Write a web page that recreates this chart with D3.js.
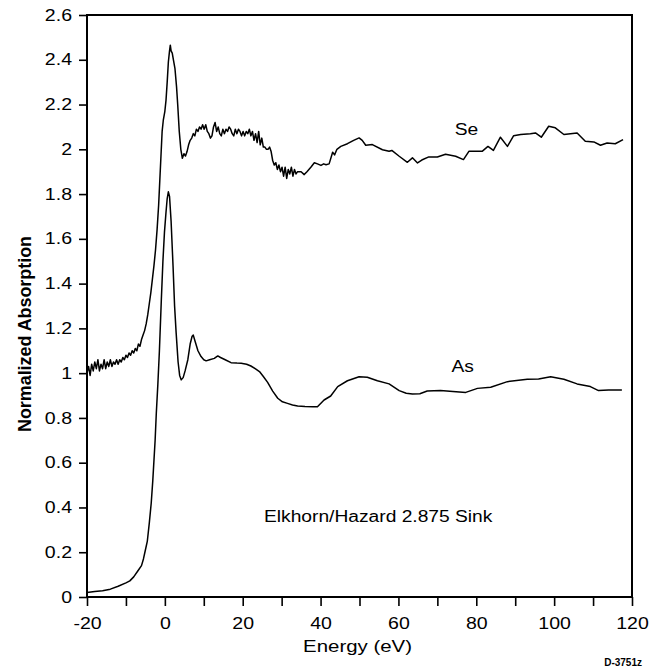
<!DOCTYPE html>
<html>
<head>
<meta charset="utf-8">
<script src="https://cdn.jsdelivr.net/npm/d3@7"></script>
<style>
  body { margin: 0; background: #fff; }
  svg { display: block; }
  text { font-family: "Liberation Sans", Arial, Helvetica, sans-serif; fill: #000; }
</style>
</head>
<body>
<svg id="chart" width="650" height="670"></svg>
<script>
// ---- data ----
const seEnergy = [-20,-19.6,-19.2,-18.8,-18.4,-18,-17.6,-17.2,-16.8,-16.4,-16,-15.6,-15.2,-14.8,-14.4,-14,-13.6,-13.2,-12.8,-12.4,-12,-11.6,-11.2,-10.8,-10.4,-10,-9.6,-9.2,-8.8,-8.4,-8,-7.6,-7.2,-6.8,-6.4,-6,-5.6,-5.2,-4.8,-4.4,-4,-3.6,-3.2,-2.8,-2.4,-2,-1.6,-1.3,-1,-0.7,-0.4,0,0.3,0.6,0.9,1.2,1.4,1.6,1.9,2.2,2.6,3,3.3,3.7,4.1,4.5,4.9,5.3,5.7,6.1,6.5,6.9,7.3,7.7,8.1,8.5,8.9,9.3,9.7,10.1,10.5,10.9,11.3,11.7,12.1,12.5,12.9,13.3,13.7,14.1,14.5,14.9,15.3,15.7,16.1,16.5,16.9,17.3,17.7,18.1,18.5,18.9,19.3,19.7,20.1,20.5,20.9,21.3,21.7,22.1,22.5,22.9,23.3,23.7,24.1,24.5,24.9,25.3,25.7,26.1,26.5,26.9,27.3,27.7,28.1,28.5,28.9,29.3,29.7,30.1,30.5,30.9,31.3,31.7,32.1,32.5,32.9,33.3,33.7,34.1,34.5,35,35.8,36.5,37.5,38.4,39.2,40.1,40.8,41.4,42.2,43.1,43.6,44.2,45.2,46.9,48.5,49.9,50.7,51.6,53.3,55.9,57.6,58.3,60.2,62.3,63.6,64.9,66,67.8,70,72.1,74.7,76.7,78.1,81.5,83,84.4,86.2,88,89.6,91.4,93.9,95.2,96.7,98.6,100.3,102.5,105.9,108,110.2,111.9,113.6,115.7,117.7];
const seAbsorption = [1.00,1.03,0.99,1.04,1.01,1.05,1.02,1.06,1.01,1.04,1.02,1.06,1.02,1.05,1.03,1.06,1.03,1.05,1.04,1.06,1.04,1.06,1.05,1.07,1.06,1.08,1.07,1.09,1.08,1.10,1.09,1.11,1.10,1.13,1.12,1.15,1.17,1.19,1.22,1.26,1.31,1.36,1.42,1.48,1.55,1.64,1.75,1.86,1.97,2.08,2.13,2.17,2.22,2.30,2.39,2.44,2.465,2.44,2.43,2.40,2.36,2.28,2.20,2.08,2.00,1.96,1.98,1.97,1.99,2.02,2.04,2.05,2.07,2.06,2.09,2.08,2.10,2.09,2.11,2.09,2.11,2.08,2.07,2.05,2.06,2.10,2.12,2.08,2.10,2.07,2.06,2.09,2.07,2.09,2.08,2.10,2.09,2.07,2.06,2.09,2.07,2.09,2.08,2.06,2.08,2.06,2.08,2.07,2.09,2.06,2.08,2.04,2.07,2.03,2.08,2.02,2.05,2.01,2.01,2.00,2.00,2.01,1.99,1.95,1.93,1.94,1.91,1.93,1.90,1.92,1.88,1.92,1.87,1.91,1.89,1.92,1.88,1.91,1.89,1.90,1.90,1.90,1.887,1.90,1.92,1.94,1.935,1.928,1.935,1.931,1.935,1.987,1.975,2.00,2.013,2.025,2.04,2.051,2.04,2.018,2.021,1.998,1.991,1.995,1.969,1.942,1.962,1.939,1.952,1.966,1.966,1.978,1.969,1.954,1.991,1.991,2.013,1.995,2.054,2.013,2.061,2.066,2.069,2.073,2.054,2.103,2.096,2.066,2.073,2.036,2.033,2.018,2.028,2.025,2.043];

const asEnergy = [-20,-18,-16,-14,-12,-10,-9,-8,-7,-6,-5.5,-5,-4.5,-4,-3.5,-3.1,-2.5,-2.2,-1.8,-1.4,-0.9,-0.5,-0.1,0.3,0.6,0.9,1.2,1.6,2.1,2.5,2.9,3.4,3.8,4.2,4.7,5.2,5.9,6.5,7,7.3,7.8,8.5,9.3,10,10.6,11.5,12.7,13.6,14.3,15.5,17,18.5,19.6,21,22.1,23.2,24.3,25.3,26.4,27.7,29,30.2,31.5,32.8,34.1,36,38,39.2,40.9,42.6,44.4,46.9,49.9,52,54.6,57.6,60.2,62,63.6,65.5,67.4,70.8,74,77.3,80.3,83.7,88,93.1,96,99.1,102.5,105.9,109.3,111.4,114,117.4];
const asAbsorption = [0.02,0.025,0.028,0.035,0.048,0.063,0.072,0.09,0.115,0.14,0.17,0.21,0.25,0.33,0.42,0.52,0.70,0.82,0.95,1.10,1.33,1.50,1.63,1.72,1.78,1.81,1.79,1.68,1.48,1.30,1.18,1.05,0.99,0.97,0.98,1.01,1.06,1.13,1.165,1.17,1.14,1.10,1.074,1.06,1.055,1.06,1.066,1.077,1.07,1.06,1.047,1.045,1.044,1.04,1.032,1.02,1.007,0.985,0.959,0.92,0.888,0.872,0.865,0.858,0.853,0.851,0.850,0.850,0.880,0.898,0.94,0.966,0.984,0.982,0.966,0.952,0.922,0.910,0.907,0.908,0.920,0.922,0.918,0.914,0.932,0.937,0.962,0.973,0.974,0.984,0.973,0.952,0.940,0.922,0.925,0.925];

const xTicks = [-20,-10,0,10,20,30,40,50,60,70,80,90,100,110,120];
const xTickLabels = ["-20","","0","","20","","40","","60","","80","","100","","120"];
const yTicks = [0,0.2,0.4,0.6,0.8,1,1.2,1.4,1.6,1.8,2,2.2,2.4,2.6];
const yTickLabels = ["0","0.2","0.4","0.6","0.8","1","1.2","1.4","1.6","1.8","2","2.2","2.4","2.6"];
const seriesLabels = ["Se","As"];
const xTitle = "Energy (eV)";
const yTitle = "Normalized Absorption";
const sampleLabel = "Elkhorn/Hazard 2.875 Sink";
const figureId = "D-3751z";

// ---- layout ----
const svg = d3.select("#chart");
const L = 87, R = 632, T = 15, B = 597;
const x = d3.scaleLinear().domain([-20, 120]).range([L, R]);
const y = d3.scaleLinear().domain([0, 2.6]).range([B, T]);

// widen glyphs horizontally (the reference type is laterally stretched)
function stretch(sel, k) {
  sel.each(function () {
    const w = this.getComputedTextLength();
    if (w > 0) d3.select(this).attr("textLength", w * k).attr("lengthAdjust", "spacingAndGlyphs");
  });
}

// axes
const xAxis = d3.axisBottom(x).tickValues(xTicks)
  .tickFormat((d, i) => xTickLabels[i]).tickSize(9).tickPadding(12);
const yAxis = d3.axisLeft(y).tickValues(yTicks)
  .tickFormat((d, i) => yTickLabels[i]).tickSize(8).tickPadding(7);

const gx = svg.append("g").attr("transform", `translate(0,${B})`).call(xAxis);
const gy = svg.append("g").attr("transform", `translate(${L},0)`).call(yAxis);
[gx, gy].forEach(g => {
  g.select(".domain").remove();
  g.selectAll(".tick line").attr("stroke", "#000").attr("stroke-width", 1.6);
  g.selectAll(".tick text").attr("font-size", 16).attr("fill", "#000")
    .style("font-family", '"Liberation Sans", Arial, sans-serif');
  stretch(g.selectAll(".tick text"), 1.22);
});

// frame
svg.append("rect").attr("x", L).attr("y", T).attr("width", R - L).attr("height", B - T)
  .attr("fill", "none").attr("stroke", "#000").attr("stroke-width", 2);

// lines
const line = d3.line().x(d => x(d[0])).y(d => y(d[1]));
const seData = seEnergy.map((e, i) => [e, seAbsorption[i]]);
const asData = asEnergy.map((e, i) => [e, asAbsorption[i]]);
[seData, asData].forEach(dat => {
  svg.append("path").datum(dat).attr("d", line)
    .attr("fill", "none").attr("stroke", "#000").attr("stroke-width", 1.5)
    .attr("stroke-linejoin", "round");
});

// series labels
const t1 = svg.append("text").attr("x", x(77.5)).attr("y", 135).attr("text-anchor", "middle")
  .attr("font-size", 16).text(seriesLabels[0]);
const t2 = svg.append("text").attr("x", x(76.5)).attr("y", 371.5).attr("text-anchor", "middle")
  .attr("font-size", 16).text(seriesLabels[1]);

// sample label
const t3 = svg.append("text").attr("x", 264).attr("y", 522).attr("text-anchor", "start")
  .attr("font-size", 16).text(sampleLabel);

// titles
const t4 = svg.append("text").attr("x", 357.5).attr("y", 652).attr("text-anchor", "middle")
  .attr("font-size", 17).text(xTitle);
[t1, t2, t3, t4].forEach(t => stretch(t, 1.2));

svg.append("text").attr("transform", "translate(31,334) scale(1.2,1) rotate(-90)")
  .attr("text-anchor", "middle").attr("font-size", 16).attr("font-weight", "bold").text(yTitle)
  .call(s => { const w = s.node().getComputedTextLength(); s.attr("textLength", 196).attr("lengthAdjust", "spacingAndGlyphs"); });
svg.append("text").attr("x", 642).attr("y", 666).attr("text-anchor", "end")
  .attr("font-size", 10).attr("font-weight", "bold").text(figureId);
</script>
</body>
</html>
